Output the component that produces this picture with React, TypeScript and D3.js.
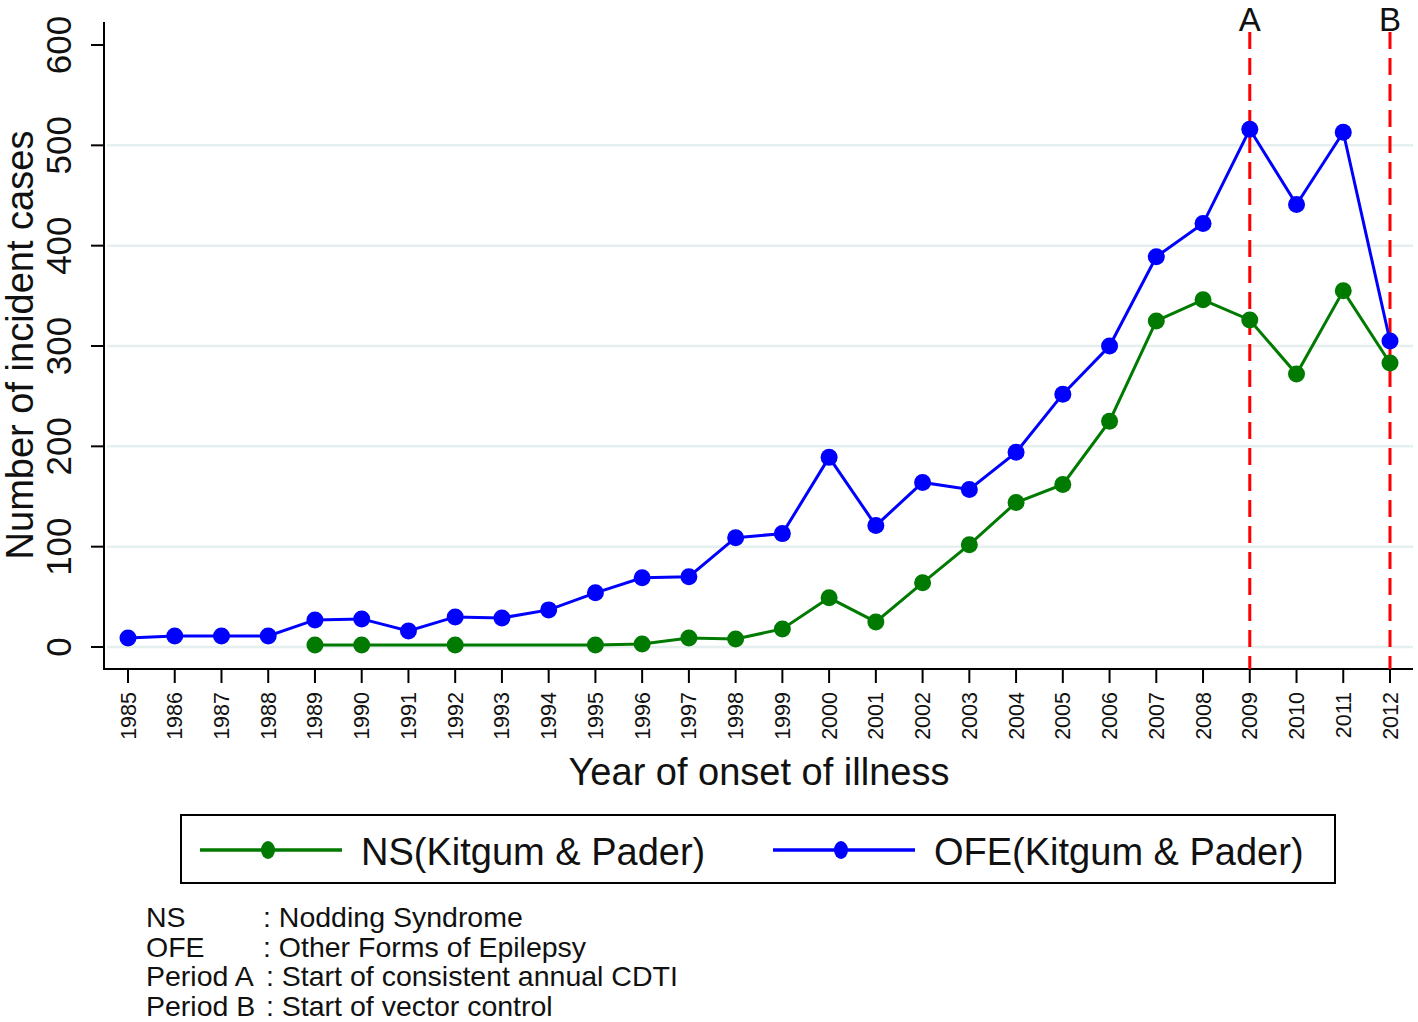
import React from "react";
import * as d3 from "d3";

const years = d3.range(1985, 2013);
const ofeYears = years;
const ofeValues = [9, 11, 11, 11, 27, 28, 16, 30, 29, 37, 54, 69, 70, 109, 113, 189, 121, 164, 157, 194, 252, 300, 389, 422, 516, 441, 513, 305];
const nsYears = [1989, 1990, 1992, 1995, 1996, 1997, 1998, 1999, 2000, 2001, 2002, 2003, 2004, 2005, 2006, 2007, 2008, 2009, 2010, 2011, 2012];
const nsValues = [2, 2, 2, 2, 3, 9, 8, 18, 49, 25, 64, 102, 144, 162, 225, 325, 346, 326, 272, 355, 283];
const yTicks = [0, 100, 200, 300, 400, 500, 600];
const gridTicks = [0, 100, 200, 300, 400, 500];
const periodLines = [
  { year: 2009, label: "A" },
  { year: 2012, label: "B" },
];
const legendItems = [
  { label: "NS(Kitgum & Pader)", color: "#007a00" },
  { label: "OFE(Kitgum & Pader)", color: "#0000ff" },
];
const notes = [
  { key: "NS", text: ": Nodding Syndrome" },
  { key: "OFE", text: ": Other Forms of Epilepsy" },
  { key: "Period A", text: ": Start of consistent annual CDTI" },
  { key: "Period B", text: ": Start of vector control" },
];

const FONT = "'Liberation Sans', Arial, sans-serif";

export default function App() {
  const W = 1418, H = 1022;
  const x = d3.scaleLinear().domain([1985, 2012]).range([128, 1390]);
  const y = d3.scaleLinear().domain([0, 600]).range([647, 45]);
  const axisLeft = 104, axisBottom = 669, plotTop = 22, plotRight = 1413;
  const line = d3.line<[number, number]>().x(d => x(d[0])).y(d => y(d[1]));
  const ofe: [number, number][] = ofeYears.map((yr, i) => [yr, ofeValues[i]]);
  const ns: [number, number][] = nsYears.map((yr, i) => [yr, nsValues[i]]);
  const green = legendItems[0].color, blue = legendItems[1].color;

  return (
    <svg width={W} height={H} style={{ position: "absolute", left: 0, top: 0, background: "#fff" }} fontFamily={FONT}>
      <rect width={W} height={H} fill="#fff" />
      {gridTicks.map(t => (
        <line key={"g" + t} x1={axisLeft + 3} x2={plotRight} y1={y(t)} y2={y(t)} stroke="#e6efef" strokeWidth={2.5} />
      ))}
      {/* axes */}
      <line x1={axisLeft} x2={axisLeft} y1={plotTop} y2={axisBottom + 1} stroke="#000" strokeWidth={2} />
      <line x1={axisLeft} x2={plotRight} y1={axisBottom} y2={axisBottom} stroke="#000" strokeWidth={2} />
      {yTicks.map(t => (
        <g key={"y" + t}>
          <line x1={axisLeft - 13} x2={axisLeft} y1={y(t)} y2={y(t)} stroke="#000" strokeWidth={2} />
          <text transform={`translate(${71},${y(t)}) rotate(-90)`} textAnchor="middle" fontSize={35} fill="#111">{t}</text>
        </g>
      ))}
      <text transform={`translate(${33},${345}) rotate(-90)`} textAnchor="middle" fontSize={38} fill="#111">Number of incident cases</text>
      {years.map(yr => (
        <g key={"x" + yr}>
          <line x1={x(yr)} x2={x(yr)} y1={axisBottom} y2={axisBottom + 14} stroke="#000" strokeWidth={2} />
          <text transform={`translate(${x(yr) + 7.5},${692}) rotate(-90)`} textAnchor="end" fontSize={21.5} fill="#111">{yr}</text>
        </g>
      ))}
      <text x={759} y={785} textAnchor="middle" fontSize={38} fill="#111">Year of onset of illness</text>
      {/* period lines */}
      {periodLines.map(p => (
        <g key={p.label}>
          <line x1={x(p.year)} x2={x(p.year)} y1={plotTop + 10} y2={axisBottom} stroke="#ff0000" strokeWidth={3} strokeDasharray="17,9" />
          <text x={x(p.year)} y={31} textAnchor="middle" fontSize={33} fill="#111">{p.label}</text>
        </g>
      ))}
      {/* series */}
      <path d={line(ns) || ""} fill="none" stroke={green} strokeWidth={3} />
      {ns.map((d, i) => (
        <circle key={"n" + i} cx={x(d[0])} cy={y(d[1])} r={8.5} fill={green} />
      ))}
      <path d={line(ofe) || ""} fill="none" stroke={blue} strokeWidth={3} />
      {ofe.map((d, i) => (
        <circle key={"o" + i} cx={x(d[0])} cy={y(d[1])} r={8.5} fill={blue} />
      ))}
      {/* legend */}
      <rect x={181} y={815} width={1154} height={68} fill="#fff" stroke="#000" strokeWidth={2} />
      {legendItems.map((it, i) => {
        const lx = i === 0 ? 200 : 773;
        return (
          <g key={it.label}>
            <line x1={lx} x2={lx + 142} y1={850} y2={850} stroke={it.color} strokeWidth={3.5} />
            <ellipse cx={lx + 68} cy={850} rx={7} ry={9} fill={it.color} />
            <text x={lx + 161} y={865} fontSize={38} fill="#111">{it.label}</text>
          </g>
        );
      })}
      {/* notes */}
      {notes.map((n, i) => (
        <g key={n.key}>
          <text x={146} y={927 + i * 29.5} fontSize={28.5} fill="#111">{n.key}</text>
          <text x={i < 2 ? 263 : 266} y={927 + i * 29.5} fontSize={28.5} fill="#111">{n.text}</text>
        </g>
      ))}
    </svg>
  );
}
